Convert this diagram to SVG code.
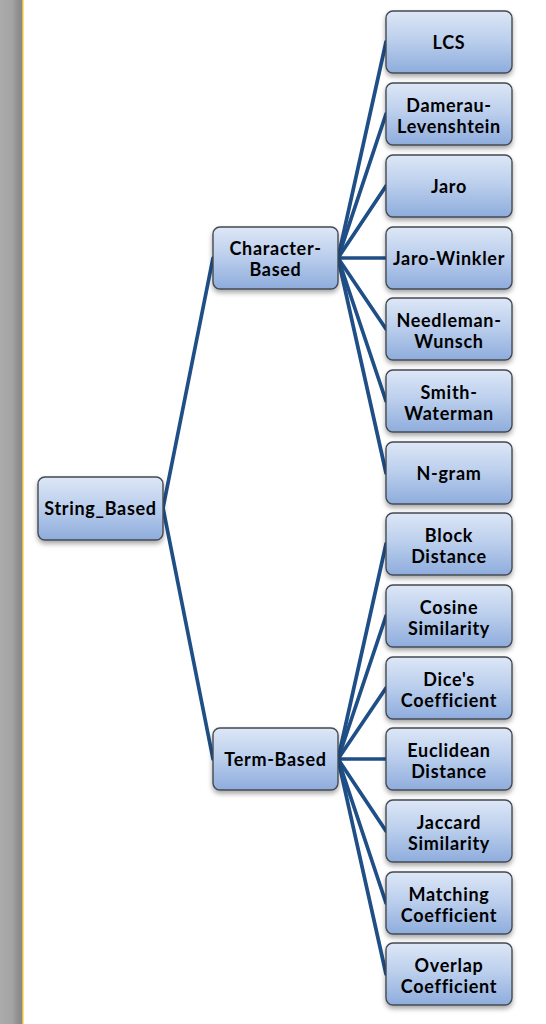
<svg xmlns="http://www.w3.org/2000/svg" width="546" height="1024" viewBox="0 0 546 1024">
<defs>
<linearGradient id="bar" x1="0" y1="0" x2="1" y2="0">
<stop offset="0" stop-color="#ababab"/>
<stop offset="0.55" stop-color="#a4a4a4"/>
<stop offset="0.8" stop-color="#909090"/>
<stop offset="1" stop-color="#878787"/>
</linearGradient>
<linearGradient id="nodeFill" x1="0" y1="0" x2="0" y2="1">
<stop offset="0" stop-color="#dde7f6"/>
<stop offset="0.5" stop-color="#b9cdec"/>
<stop offset="1" stop-color="#8eacdc"/>
</linearGradient>
<filter id="shadow" x="-20%" y="-20%" width="140%" height="150%">
<feDropShadow dx="0" dy="3" stdDeviation="2.5" flood-color="#000" flood-opacity="0.35"/>
</filter>
</defs>
<style>
.box{fill:url(#nodeFill);stroke:#454a52;stroke-width:1.4;filter:url(#shadow)}
.lbl{font-family:Lato,"Liberation Sans",sans-serif;font-weight:bold;font-size:18px;letter-spacing:0.7px;fill:#000;text-anchor:middle}
.edge{stroke:#1f4f86;stroke-width:3.7;fill:none;stroke-linecap:round}
</style>
<rect x="0" y="0" width="22" height="1024" fill="url(#bar)"/>
<rect x="22" y="0" width="1.5" height="1024" fill="#e3c03a"/>
<g id="connectors">
<line class="edge" x1="163" y1="508" x2="213" y2="258"/>
<line class="edge" x1="163" y1="508" x2="213" y2="759"/>
<line class="edge" x1="338" y1="258" x2="386" y2="42"/>
<line class="edge" x1="338" y1="258" x2="386" y2="114"/>
<line class="edge" x1="338" y1="258" x2="386" y2="186"/>
<line class="edge" x1="338" y1="258" x2="386" y2="258"/>
<line class="edge" x1="338" y1="258" x2="386" y2="329"/>
<line class="edge" x1="338" y1="258" x2="386" y2="401"/>
<line class="edge" x1="338" y1="258" x2="386" y2="473"/>
<line class="edge" x1="338" y1="759" x2="386" y2="544"/>
<line class="edge" x1="338" y1="759" x2="386" y2="616"/>
<line class="edge" x1="338" y1="759" x2="386" y2="688"/>
<line class="edge" x1="338" y1="759" x2="386" y2="759"/>
<line class="edge" x1="338" y1="759" x2="386" y2="831"/>
<line class="edge" x1="338" y1="759" x2="386" y2="903"/>
<line class="edge" x1="338" y1="759" x2="386" y2="974"/>
</g>
<g id="string_based"><rect class="box" x="38" y="477" width="125" height="63" rx="7"/><text class="lbl" x="100.5" y="515">String_Based</text></g>
<g id="character_based"><rect class="box" x="213" y="227" width="125" height="62" rx="7"/><text class="lbl" x="275.5" y="255">Character-</text><text class="lbl" x="275.5" y="276">Based</text></g>
<g id="term_based"><rect class="box" x="213" y="728" width="125" height="62" rx="7"/><text class="lbl" x="275.5" y="766">Term-Based</text></g>
<g id="lcs"><rect class="box" x="386" y="11" width="126" height="62" rx="7"/><text class="lbl" x="449" y="49">LCS</text></g>
<g id="damerau"><rect class="box" x="386" y="83" width="126" height="62" rx="7"/><text class="lbl" x="449" y="112">Damerau-</text><text class="lbl" x="449" y="133">Levenshtein</text></g>
<g id="jaro"><rect class="box" x="386" y="155" width="126" height="62" rx="7"/><text class="lbl" x="449" y="193">Jaro</text></g>
<g id="jaro_winkler"><rect class="box" x="386" y="227" width="126" height="62" rx="7"/><text class="lbl" x="449" y="265">Jaro-Winkler</text></g>
<g id="needleman"><rect class="box" x="386" y="298" width="126" height="62" rx="7"/><text class="lbl" x="449" y="327">Needleman-</text><text class="lbl" x="449" y="348">Wunsch</text></g>
<g id="smith"><rect class="box" x="386" y="370" width="126" height="62" rx="7"/><text class="lbl" x="449" y="399">Smith-</text><text class="lbl" x="449" y="420">Waterman</text></g>
<g id="ngram"><rect class="box" x="386" y="442" width="126" height="62" rx="7"/><text class="lbl" x="449" y="480">N-gram</text></g>
<g id="block"><rect class="box" x="386" y="513" width="126" height="62" rx="7"/><text class="lbl" x="449" y="542">Block</text><text class="lbl" x="449" y="563">Distance</text></g>
<g id="cosine"><rect class="box" x="386" y="585" width="126" height="62" rx="7"/><text class="lbl" x="449" y="614">Cosine</text><text class="lbl" x="449" y="635">Similarity</text></g>
<g id="dice"><rect class="box" x="386" y="657" width="126" height="62" rx="7"/><text class="lbl" x="449" y="686">Dice's</text><text class="lbl" x="449" y="707">Coefficient</text></g>
<g id="euclidean"><rect class="box" x="386" y="728" width="126" height="62" rx="7"/><text class="lbl" x="449" y="757">Euclidean</text><text class="lbl" x="449" y="778">Distance</text></g>
<g id="jaccard"><rect class="box" x="386" y="800" width="126" height="62" rx="7"/><text class="lbl" x="449" y="829">Jaccard</text><text class="lbl" x="449" y="850">Similarity</text></g>
<g id="matching"><rect class="box" x="386" y="872" width="126" height="62" rx="7"/><text class="lbl" x="449" y="901">Matching</text><text class="lbl" x="449" y="922">Coefficient</text></g>
<g id="overlap"><rect class="box" x="386" y="943" width="126" height="62" rx="7"/><text class="lbl" x="449" y="972">Overlap</text><text class="lbl" x="449" y="993">Coefficient</text></g>
</svg>
